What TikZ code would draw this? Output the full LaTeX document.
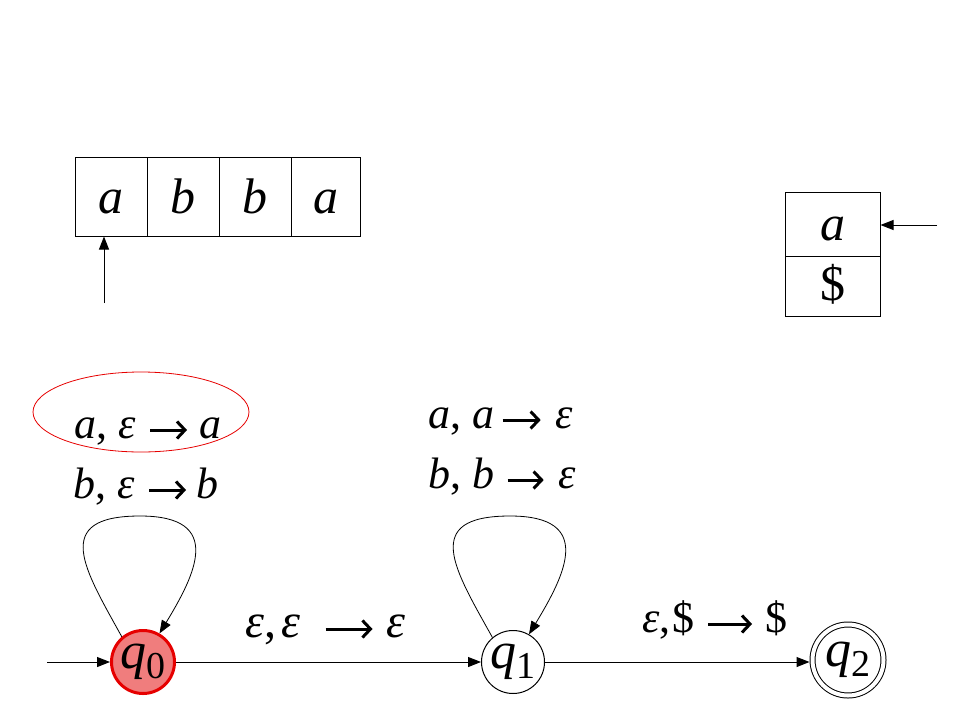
\documentclass[tikz,border=0pt]{standalone}
\usepackage{fontspec}
\setmainfont{Liberation Serif}
\usetikzlibrary{arrows.meta}
\definecolor{qfill}{RGB}{240,125,125}
\definecolor{qred}{RGB}{230,0,0}
\newcommand{\st}[1]{\textit{q}\raisebox{-10pt}{\fontsize{38}{40}\selectfont #1}}
% #1 kern before, #2 arrow width, #3 kern after
\newcommand{\ar}[3]{\kern#1\tikz[baseline=-8pt,line width=3pt]{\pgfsetlinewidth{3pt}\draw[line width=3pt,-{Straight Barb[length=8pt,width=17pt,line width=3pt]}] (0pt,0pt) -- (#2,0pt);}\kern#3}
\begin{document}
\begin{tikzpicture}[x=1pt,y=-1pt,
  cell/.style={draw,line width=1pt,minimum width=72pt,minimum height=79pt,inner sep=0pt,
    text height=34pt,text depth=0pt,font=\fontsize{50}{56}\selectfont},
  scell/.style={draw,line width=1pt,minimum width=95pt,inner sep=0pt,text depth=0pt,
    font=\fontsize{50}{56}\selectfont},
  state/.style={circle,draw,line width=1pt,minimum size=63pt,inner sep=0pt,
    font=\fontsize{52}{56}\selectfont},
  lab/.style={anchor=base west,inner sep=0pt,font=\fontsize{44}{48}\selectfont},
  arr/.style={line width=1pt,-{Triangle[length=13pt,width=10pt]}},
  loopline/.style={line width=0.8pt,-{Triangle[length=13pt,width=10pt]}}
]
\useasboundingbox (0,0) rectangle (960,720);
% tape
\node[cell] (c1) at (111,196.5) {\textit{a}};
\node[cell] (c2) at (183,196.5) {\textit{b}};
\node[cell] (c3) at (255,196.5) {\textit{b}};
\node[cell,minimum width=69pt] (c4) at (325.5,196.5) {\textit{a}};
\coordinate (hd) at (104,303);
\draw[arr] (hd) -- (hd |- c1.south);
% stack
\node[scell,minimum height=64pt,text height=32pt] (s1) at (832.5,224) {\textit{a}};
\node[scell,minimum height=60pt,text height=28pt] (s2) at (832.5,286) {\$};
\coordinate (sp) at (937,225);
\draw[arr] (sp) -- (s1.east |- sp);
% states
\node[state,fill=qfill,draw=qred,line width=3pt] (q0) at (143,662) {\st{0}};
\node[state] (q1) at (513,662) {\st{1}};
\node[state,minimum size=71pt,double,double distance=4pt] (q2) at (848,660) {\st{2}};
\coordinate (start) at (47,662);
\draw[arr] (start) -- (q0);
\draw[arr] (q0) -- (q1);
\draw[arr,shorten >=2.5pt] (q1) -- (q2.west |- q1);
% loops
\draw[loopline] (q0.130) .. controls (85,570) and (50,516) .. (140,516)
  .. controls (225,516) and (195,575) .. (q0.60);
\draw[loopline] (q1.130) .. controls (455,570) and (420,516) .. (510,516)
  .. controls (595,516) and (565,575) .. (q1.60);
% labels
\node[lab] (l1) at (74,438) {\textit{a}, \textit{ε}\ar{13pt}{37pt}{11pt}\textit{a}};
\node[lab] (l2) at (73,498) {\textit{b}, \textit{ε}\ar{13pt}{37pt}{9pt}\textit{b}};
\node[lab] (l3) at (428,428) {\textit{a}, \textit{a}\ar{7pt}{38pt}{13pt}\textit{ε}};
\node[lab] (l4) at (428,488) {\textit{b}, \textit{b}\ar{12pt}{36pt}{13pt}\textit{ε}};
\node[lab,font=\fontsize{48}{54}\selectfont] (l5) at (245,637) {\textit{ε},\kern5pt\textit{ε}\ar{24pt}{47pt}{12pt}\textit{ε}};
\node[lab] (l6) at (642,632) {\textit{ε},\kern2pt\$\ar{12pt}{44pt}{12pt}\$};
\draw[qred,line width=0.8pt] (141,412) ellipse [x radius=108, y radius=40];
\end{tikzpicture}
\end{document}
